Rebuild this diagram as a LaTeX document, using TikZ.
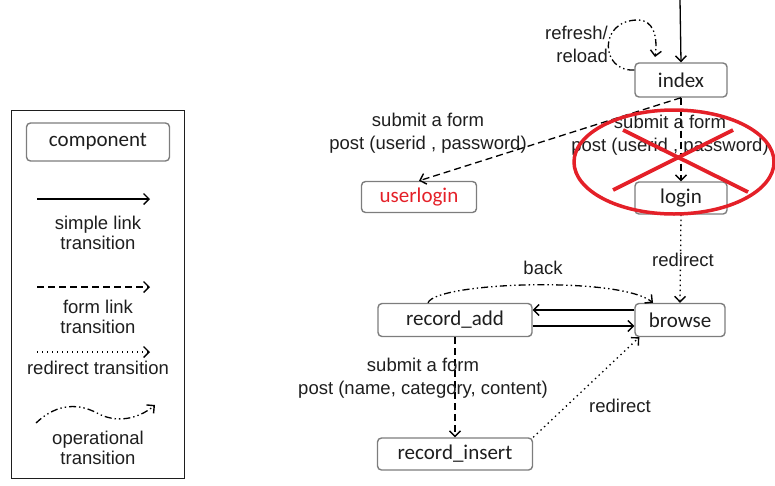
\documentclass[tikz,border=0pt]{standalone}
\usepackage{fontspec}
\setmainfont{Liberation Sans}
\newfontfamily\nodefont{Carlito}
\usetikzlibrary{arrows.meta,calc}
\definecolor{boxgray}{RGB}{125,125,125}
\definecolor{xred}{RGB}{228,32,40}
\definecolor{txt}{RGB}{30,30,30}
\tikzset{
  comp/.style={draw=boxgray,line width=1.4pt,rounded corners=4pt,inner sep=0pt,
    font=\nodefont\fontsize{21}{24}\selectfont,text=txt},
  lbl/.style={font=\fontsize{18.5}{23}\selectfont,align=center,text=txt,inner sep=0pt},
  leglbl/.style={font=\fontsize{18.5}{20.5}\selectfont,align=center,text=txt,inner sep=0pt},
  conn/.style={line width=1.3pt,-{Straight Barb[length=5.5pt,width=11pt,line width=1.4pt]}},
  formlink/.style={conn,dash pattern=on 7pt off 4pt},
  redir/.style={conn,dash pattern=on 1.4pt off 3.6pt},
  oper/.style={conn,dash pattern=on 7pt off 3pt on 1.4pt off 3pt on 1.4pt off 3pt},
}
\begin{document}
\begin{tikzpicture}[x=1pt,y=-1pt]
\useasboundingbox (0,0) rectangle (775,485);

% ---------- legend ----------
\node[draw=txt,line width=0.8pt,minimum width=173pt,minimum height=368pt,inner sep=0pt] (legend) at (97.5,294) {};
\node[comp,minimum width=143pt,minimum height=38pt] (lcomp) at (98,142) {component};
\coordinate (ls1) at (37,199); \coordinate (le1) at (150,199);
\draw[conn] (ls1) -- (le1);
\node[leglbl] (lt1) at (98,233) {simple link\\transition};
\coordinate (ls2) at (37,287); \coordinate (le2) at (150,287);
\draw[formlink] (ls2) -- (le2);
\node[leglbl] (lt2) at (98,317) {form link\\transition};
\coordinate (ls3) at (37,352); \coordinate (le3) at (150,352);
\draw[redir] (ls3) -- (le3);
\node[leglbl] (lt3) at (98,368) {redirect transition};
\coordinate (ls4) at (36,423); \coordinate (le4) at (155,405);
\draw[oper] (ls4) .. controls (58,402) and (80,404) .. (97,413) .. controls (115,423) and (137,420) .. (le4);
\node[leglbl] (lt4) at (98,448) {operational\\transition};

% ---------- components ----------
\node[comp,minimum width=92pt,minimum height=34pt] (index) at (681,80) {index};
\node[comp,minimum width=92pt,minimum height=32pt] (login) at (681,198) {login};
\node[comp,minimum width=115pt,minimum height=31pt,text=xred] (userlogin) at (419,197) {userlogin};
\node[comp,minimum width=90pt,minimum height=33pt] (browse) at (680,320) {browse};
\node[comp,minimum width=154pt,minimum height=33pt] (recadd) at (455,320) {record\_add};
\node[comp,minimum width=155pt,minimum height=32pt] (recins) at (455,454) {record\_insert};

% ---------- transitions ----------
\coordinate (start) at (680,0);
\draw[conn] (start) -- (index.north);

\coordinate (rl) at (655,57);
\draw[oper] ([yshift=10pt]index.west) .. controls (600,72) and (598,20) .. (638,20)
  .. controls (653,20) and (658,36) .. (rl);
\node[lbl,align=right,anchor=east] (reflbl) at (608,44) {refresh/\\reload};

\draw[formlink] (index.south) -- (userlogin.north);
\node[lbl] (sub1) at (428,133) {submit a form\\post (userid , password)};

\draw[formlink] (index.south) -- (login.north);
\node[lbl] (sub2) at (670,135) {submit a form\\post (userid , password)};

\draw[redir] (login.south) -- (browse.north);
\node[lbl] (red1) at (683,260) {redirect};

\draw[oper] ([xshift=-27pt]recadd.north) .. controls (436,282) and (620,276) .. ([xshift=-27pt]browse.north);
\node[lbl] (back) at (543,268) {back};

\draw[conn] ([yshift=10pt]browse.west) -- ([yshift=10pt]recadd.east);
\draw[conn] ([yshift=-6pt]recadd.east) -- ([yshift=-6pt]browse.west);

\draw[formlink] (recadd.south) -- (recins.north);
\node[lbl] (sub3) at (423,378) {submit a form\\post (name, category, content)};

\draw[redir] (recins.north east) -- ([xshift=5pt]browse.south west);
\node[lbl] (red2) at (620,406) {redirect};

% ---------- red cross-out ----------
\draw[xred,line width=3.5pt] (674,162) ellipse [x radius=100pt,y radius=52pt];
\coordinate (xa) at (623,130); \coordinate (xb) at (748,192);
\coordinate (xc) at (733,130); \coordinate (xd) at (613,190);
\draw[xred,line width=3.8pt] (xa) -- (xb);
\draw[xred,line width=3.8pt] (xc) -- (xd);
\end{tikzpicture}
\end{document}
